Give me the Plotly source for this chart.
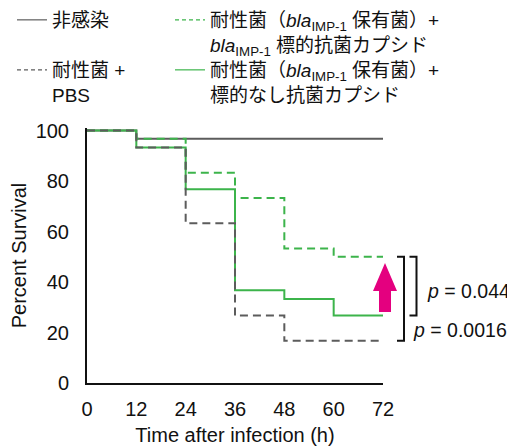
import plotly.graph_objects as go

# ---------------- data ----------------
hours = [0, 12, 24, 36, 48, 60, 72]
uninfected = [100, 96.7, 96.7, 96.7, 96.7, 96.7, 96.7]
resistant_pbs = [100, 93.3, 63.3, 26.7, 16.7, 16.7, 16.7]
resistant_targeted = [100, 96.7, 83.3, 73.3, 53.3, 50.0, 50.0]
resistant_nontargeted = [100, 93.3, 76.7, 36.7, 33.3, 26.7, 26.7]
x_ticks = [0, 12, 24, 36, 48, 60, 72]
y_ticks = [0, 20, 40, 60, 80, 100]
p_values = ["0.044", "0.0016"]

names = [
    "非感染",
    "耐性菌（<i>bla</i><sub>IMP-1</sub> 保有菌）+<br><i>bla</i><sub>IMP-1</sub> 標的抗菌カプシド",
    "耐性菌 +<br>PBS",
    "耐性菌（<i>bla</i><sub>IMP-1</sub> 保有菌）+<br>標的なし抗菌カプシド",
]

GREY = "#5c5c5c"
GREEN = "#3cb44b"
MAGENTA = "#e4007f"
FONT = "Liberation Sans, Arial, Noto Sans CJK JP, sans-serif"

OFF = 8  # page body margin
W, H = 515 - OFF, 446 - OFF
# plot area in page pixels: x 87..383, y 128..383
ML = 87 - OFF
MR = 515 - 383
MT = 128 - OFF
MB = 446 - 383
YMAX = 101
PW = W - ML - MR
PH = H - MT - MB


def px_x(p):
    return (p - OFF - ML) / PW


def px_y(p):
    return (H - MB - (p - OFF)) / PH


def val_y(v):
    return v / YMAX


fig = go.Figure()

# actual curves (drawing order matters for overlaps)
fig.add_trace(go.Scatter(x=hours, y=uninfected, mode="lines", line_shape="hv",
                         line=dict(color=GREY, width=2), showlegend=False))
fig.add_trace(go.Scatter(x=hours, y=resistant_nontargeted, mode="lines", line_shape="hv",
                         line=dict(color=GREEN, width=2), showlegend=False))
fig.add_trace(go.Scatter(x=hours, y=resistant_targeted, mode="lines", line_shape="hv",
                         line=dict(color=GREEN, width=2, dash="8px,5px"), showlegend=False))
fig.add_trace(go.Scatter(x=hours, y=resistant_pbs, mode="lines", line_shape="hv",
                         line=dict(color=GREY, width=2, dash="8px,5px"), showlegend=False))

# legend entries (thin lines as in reference)
leg_styles = [(GREY, "solid"), (GREEN, "4px,3px"), (GREY, "4px,3px"), (GREEN, "solid")]
leg_ids = ["legend", "legend2", "legend3", "legend4"]
for nm, (c, d), lid in zip(names, leg_styles, leg_ids):
    fig.add_trace(go.Scatter(x=[None], y=[None], mode="lines", name=nm,
                             line=dict(color=c, width=1.2, dash=d), legend=lid))

leg_common = dict(font=dict(family=FONT, size=19, color="#111"), bgcolor="rgba(0,0,0,0)",
                  xanchor="left", yanchor="top", valign="top", itemwidth=30)
col_x = [px_x(12), px_x(170)]
row_y = [px_y(1), px_y(51)]

fig.update_layout(
    legend=dict(x=col_x[0], y=row_y[0], **leg_common),
    legend2=dict(x=col_x[1], y=row_y[0], **leg_common),
    legend3=dict(x=col_x[0], y=row_y[1], **leg_common),
    legend4=dict(x=col_x[1], y=row_y[1], **leg_common),
)

# brackets (paper coordinates)
top_v = resistant_targeted[-1]
shapes = []
for xv, bottom_v in [(404, resistant_pbs[-1]), (416.5, resistant_nontargeted[-1])]:
    x0 = px_x(xv - 7)
    x1 = px_x(xv)
    y0 = val_y(top_v)
    y1 = val_y(bottom_v)
    shapes.append(dict(type="path", xref="paper", yref="paper",
                       path=f"M{x0},{y0} L{x1},{y0} L{x1},{y1} L{x0},{y1}",
                       line=dict(color="#111", width=2)))

# magenta arrow
cx = 385
hw, sw = 12, 6
tip, hb, bot = 263, 291, 312
pts = [(cx, tip), (cx + hw, hb), (cx + sw, hb), (cx + sw, bot), (cx - sw, bot),
       (cx - sw, hb), (cx - hw, hb)]
path = "M" + " L".join(f"{px_x(a)},{px_y(b)}" for a, b in pts) + " Z"
shapes.append(dict(type="path", xref="paper", yref="paper", path=path,
                   fillcolor=MAGENTA, line=dict(color=MAGENTA, width=0)))
fig.update_layout(shapes=shapes)

fig.add_annotation(xref="paper", yref="paper", x=px_x(425), y=px_y(291),
                   xanchor="left", yanchor="middle", showarrow=False,
                   text=f"<i>p</i> = {p_values[0]}",
                   font=dict(family=FONT, size=19.5, color="#111"))
fig.add_annotation(xref="paper", yref="paper", x=px_x(411), y=px_y(330),
                   xanchor="left", yanchor="middle", showarrow=False,
                   text=f"<i>p</i> = {p_values[1]}",
                   font=dict(family=FONT, size=19.5, color="#111"))

fig.update_layout(
    width=W, height=H,
    margin=dict(l=ML, r=MR, t=MT, b=MB, pad=0, autoexpand=False),
    paper_bgcolor="white", plot_bgcolor="white",
    font=dict(family=FONT, size=20, color="#111"),
    xaxis=dict(range=[0, 72], tickvals=x_ticks, ticktext=[str(t) for t in x_ticks],
               showgrid=False, zeroline=False, showline=True, linecolor="#111",
               linewidth=2, ticks="", ticklabelstandoff=7,
               title=dict(text="Time after infection (h)", standoff=11,
                          font=dict(size=20))),
    yaxis=dict(range=[0, YMAX], tickvals=y_ticks, ticktext=[str(t) for t in y_ticks],
               showgrid=False, zeroline=False, showline=True, linecolor="#111",
               linewidth=2, ticks="", ticklabelstandoff=12,
               title=dict(text="Percent Survival", standoff=12,
                          font=dict(size=20))),
)

fig.write_html("out.html")
